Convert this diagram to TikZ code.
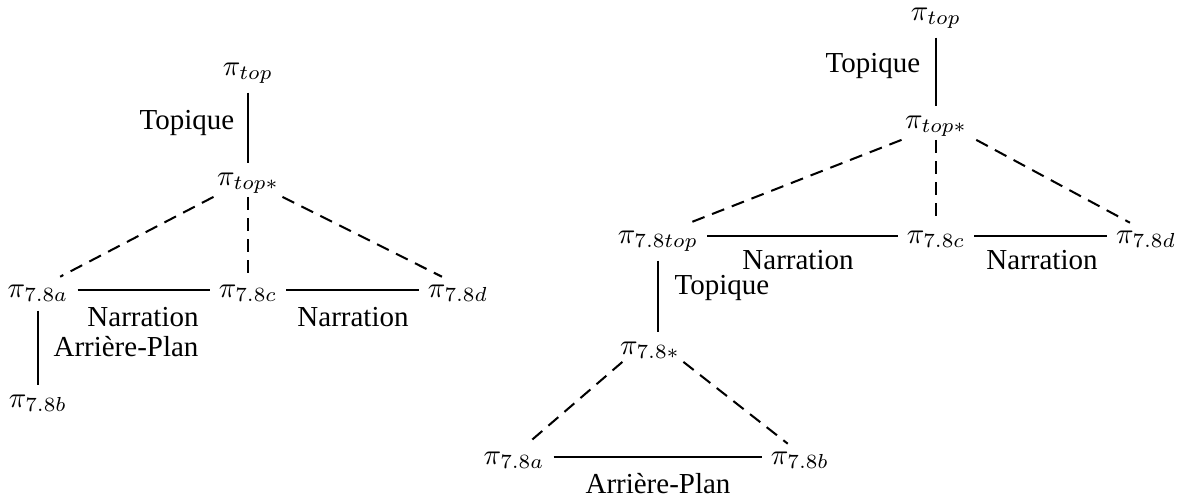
\documentclass[tikz,border=0pt]{standalone}
\usepackage[no-math]{fontspec}
\setmainfont{Liberation Serif}
\begin{document}
\begin{tikzpicture}[x=0.345pt,y=-0.345pt,
  pnode/.style={inner sep=1pt},
  bnode/.style={inner sep=1pt,anchor=base},
  lab/.style={inner sep=0pt},
  rel/.style={line width=0.7pt,shorten <=2pt,shorten >=2pt},
  dsh/.style={line width=0.7pt,dash pattern=on 4.5pt off 2.8pt}]
\useasboundingbox (0,0) rectangle (1178,500);
% left tree
\node[pnode] (ltop) at (248,73) {$\pi_{top}$};
\node[pnode] (lts) at (248,183) {$\pi_{top*}$};
\node[bnode] (la) at (38,297) {$\pi_{7.8a}$};
\node[bnode] (lc) at (248,297) {$\pi_{7.8c}$};
\node[bnode] (ld) at (458,297) {$\pi_{7.8d}$};
\node[pnode] (lb) at (38,403) {$\pi_{7.8b}$};
\node[lab] (lt1) at (187,123) {Topique};
\node[lab] (ln1) at (143,317) {Narration};
\node[lab] (ln2) at (353,317) {Narration};
\node[lab] (lap) at (126,347) {Arrière-Plan};
\draw[rel] (ltop.south) -- (lts.north);
\draw[dsh] (lts.south west) -- ([shift={(-4pt,1.5pt)}]la.north east);
\draw[dsh] (lts.south) -- ([yshift=1.5pt]lc.north);
\draw[dsh] (lts.south east) -- ([shift={(6pt,1.5pt)}]ld.north west);
\draw[rel] (la.mid east) -- (lc.mid west);
\draw[rel] (lc.mid east) -- (ld.mid west);
\draw[rel] (la.south) -- (lb.north);
% right tree
\node[pnode] (rtop) at (936,18) {$\pi_{top}$};
\node[pnode] (rts) at (936,126) {$\pi_{top*}$};
\node[bnode] (r8t) at (658,243) {$\pi_{7.8top}$};
\node[bnode] (rc) at (936,243) {$\pi_{7.8c}$};
\node[bnode] (rd) at (1146,243) {$\pi_{7.8d}$};
\node[pnode] (r8s) at (650,350) {$\pi_{7.8*}$};
\node[bnode] (ra) at (514,464) {$\pi_{7.8a}$};
\node[bnode] (rb) at (800,464) {$\pi_{7.8b}$};
\node[lab] (rt1) at (873,66) {Topique};
\node[lab] (rn1) at (798,260) {Narration};
\node[lab] (rn2) at (1042,260) {Narration};
\node[lab] (rt2) at (722,288) {Topique};
\node[lab] (rap) at (658,484) {Arrière-Plan};
\draw[rel] (rtop.south) -- (rts.north);
\draw[dsh] (rts.south west) -- ([shift={(-4pt,1.5pt)}]r8t.north east);
\draw[dsh] ([xshift=2pt]rts.south east) -- ([shift={(6pt,1.5pt)}]rd.north west);
\draw[dsh] (rts.south) -- ([yshift=1.5pt]rc.north);
\draw[rel] (r8t.mid east) -- (rc.mid west);
\draw[rel] (rc.mid east) -- (rd.mid west);
\draw[rel] (r8t.south) -- (r8t.south |- r8s.north);
\draw[dsh] ([xshift=2pt]r8s.south west) -- ([shift={(-7pt,1.5pt)}]ra.north east);
\draw[dsh] (r8s.south east) -- ([shift={(7pt,1.5pt)}]rb.north west);
\draw[rel] (ra.mid east) -- (rb.mid west);
\end{tikzpicture}
\end{document}
